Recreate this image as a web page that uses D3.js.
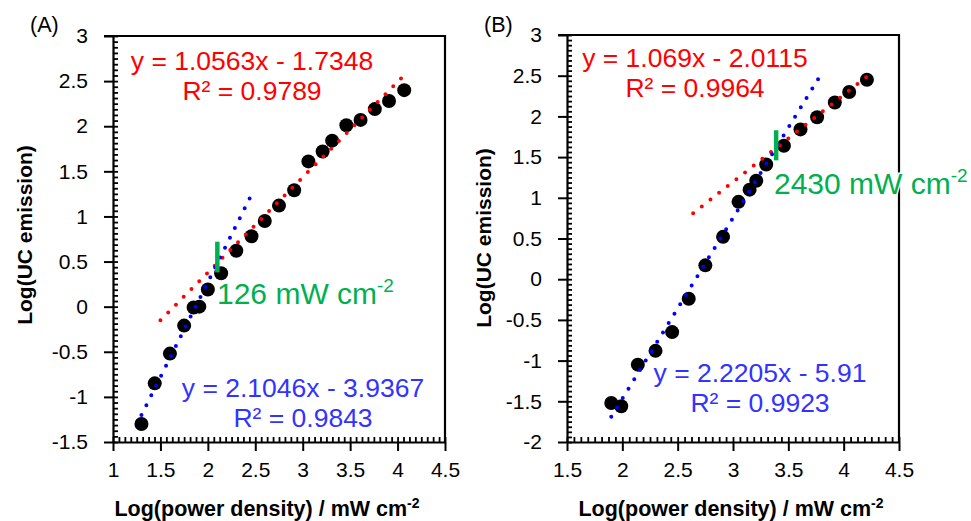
<!DOCTYPE html>
<html>
<head>
<meta charset="utf-8">
<style>
  body { margin: 0; background: #fff; }
  svg { display: block; font-family: "Liberation Sans", Arial, sans-serif; }
</style>
</head>
<body>
<div id="chart"></div>
<script src="https://cdn.jsdelivr.net/npm/d3@7"></script>
<script>
// ---- data ----
var xA = [1.30, 1.44, 1.60, 1.75, 1.85, 1.91, 2.00, 2.14, 2.30, 2.46, 2.60, 2.75, 2.91, 3.06, 3.21, 3.31, 3.46, 3.61, 3.76, 3.91, 4.07];
var yA = [-1.30, -0.85, -0.52, -0.21, -0.01, 0.00, 0.19, 0.37, 0.62, 0.78, 0.95, 1.12, 1.29, 1.61, 1.72, 1.84, 2.01, 2.07, 2.19, 2.28, 2.40];
var xB = [1.90, 1.99, 2.14, 2.30, 2.45, 2.60, 2.75, 2.91, 3.05, 3.15, 3.21, 3.30, 3.46, 3.61, 3.76, 3.92, 4.05, 4.21];
var yB = [-1.52, -1.56, -1.05, -0.88, -0.65, -0.24, 0.17, 0.52, 0.95, 1.10, 1.21, 1.41, 1.64, 1.84, 1.99, 2.17, 2.30, 2.45];

// trendlines: [slope, intercept, xFrom, xTo]
var fitA_high = [1.0563, -1.7348, 1.50, 4.05];
var fitA_low  = [2.1046, -3.9367, 1.30, 2.48];
var fitB_high = [1.069, -2.0115, 2.64, 4.21];
var fitB_low  = [2.2205, -5.91, 1.90, 3.77];

var eqA_high = ["y = 1.0563x - 1.7348", "R² = 0.9789"];
var eqA_low  = ["y = 2.1046x - 3.9367", "R² = 0.9843"];
var eqB_high = ["y = 1.069x - 2.0115", "R² = 0.9964"];
var eqB_low  = ["y = 2.2205x - 5.91", "R² = 0.9923"];

// threshold marker: [log power, yFrom, yTo], label
var markA = [2.10, 0.38, 0.72], markA_label = "126 mW cm";
var markB = [3.39, 1.46, 1.83], markB_label = "2430 mW cm";

var xTicksA = [1, 1.5, 2, 2.5, 3, 3.5, 4, 4.5];
var yTicksA = [-1.5, -1, -0.5, 0, 0.5, 1, 1.5, 2, 2.5, 3];
var xTicksB = [1.5, 2, 2.5, 3, 3.5, 4, 4.5];
var yTicksB = [-2, -1.5, -1, -0.5, 0, 0.5, 1, 1.5, 2, 2.5, 3];

var RED = "#ff0000", BLUE = "#0000ff", BLUE_TXT = "#3333ff", GREEN = "#00b050";

var svg = d3.select("#chart").append("svg")
    .attr("width", 971)
    .attr("height", 521);

function fmt(d) { return String(d); }

function panel(o) {
  var x = d3.scaleLinear().domain([o.xTicks[0], o.xTicks[o.xTicks.length - 1]]).range([o.left, o.right]);
  var y = d3.scaleLinear().domain([o.yTicks[0], o.yTicks[o.yTicks.length - 1]]).range([o.bottom, o.top]);

  // minor ticks: 8 per major step
  function minors(t) {
    var out = [];
    for (var i = 0; i < t.length - 1; i++)
      for (var k = 0; k < 8; k++) out.push(t[i] + (t[i + 1] - t[i]) * k / 8);
    out.push(t[t.length - 1]);
    return out;
  }

  var g = svg.append("g");

  // inner ticks (minor + major)
  g.append("g").attr("transform", "translate(" + o.left + ",0)")
    .call(d3.axisRight(y).tickValues(minors(o.yTicks)).tickSize(5).tickSizeOuter(0).tickFormat(""))
    .call(function(s) { s.select(".domain").remove(); s.selectAll("line").attr("stroke-width", 1.8); });
  g.append("g").attr("transform", "translate(0," + o.bottom + ")")
    .call(d3.axisTop(x).tickValues(minors(o.xTicks)).tickSize(5).tickSizeOuter(0).tickFormat(""))
    .call(function(s) { s.select(".domain").remove(); s.selectAll("line").attr("stroke-width", 1.8); });

  // major ticks with labels
  var ay = g.append("g").attr("transform", "translate(" + o.left + ",0)")
    .call(d3.axisLeft(y).tickValues(o.yTicks).tickSize(9).tickSizeOuter(0).tickPadding(16).tickFormat(fmt));
  ay.selectAll("line").attr("stroke-width", 2);
  ay.select(".domain").attr("stroke-width", 2.2);
  ay.selectAll("text").attr("font-size", 21).attr("fill", "#000").attr("font-family", "Liberation Sans, Arial, sans-serif");

  var ax = g.append("g").attr("transform", "translate(0," + o.bottom + ")")
    .call(d3.axisBottom(x).tickValues(o.xTicks).tickSize(9).tickSizeOuter(0).tickFormat(fmt));
  ax.selectAll("line").attr("stroke-width", 2);
  ax.select(".domain").attr("stroke-width", 2.2);
  ax.selectAll("text").attr("font-size", 21).attr("fill", "#000").attr("dy", null).attr("y", 35)
    .attr("font-family", "Liberation Sans, Arial, sans-serif");

  // top and right border
  g.append("path")
    .attr("d", "M" + (o.left - 9) + "," + o.top + "H" + o.right + "V" + o.bottom)
    .attr("fill", "none").attr("stroke", "#000").attr("stroke-width", 2.2);

  // points
  g.append("g").selectAll("circle")
    .data(o.xs.map(function(d, i) { return [d, o.ys[i]]; }))
    .join("circle")
    .attr("cx", function(d) { return x(d[0]); })
    .attr("cy", function(d) { return y(d[1]); })
    .attr("r", 7)
    .attr("fill", "#000");

  // dotted trendlines
  var line = d3.line().x(function(d) { return x(d[0]); }).y(function(d) { return y(d[1]); });
  [[o.fitHigh, RED], [o.fitLow, BLUE]].forEach(function(f) {
    var p = f[0];
    g.append("path")
      .attr("d", line([[p[2], p[0] * p[2] + p[1]], [p[3], p[0] * p[3] + p[1]]]))
      .attr("stroke", f[1]).attr("stroke-width", 4).attr("fill", "none")
      .attr("stroke-linecap", "round").attr("stroke-dasharray", "0 11");
  });

  // threshold marker
  g.append("line")
    .attr("x1", x(o.mark[0])).attr("x2", x(o.mark[0]))
    .attr("y1", y(o.mark[1])).attr("y2", y(o.mark[2]))
    .attr("stroke", GREEN).attr("stroke-width", 4.5);

  var ml = g.append("text")
    .attr("x", o.markText[0]).attr("y", o.markText[1])
    .attr("font-size", 30).attr("fill", GREEN)
    .attr("stroke", "#fff").attr("stroke-width", 3).attr("paint-order", "stroke");
  ml.append("tspan").text(o.markLabel);
  ml.append("tspan").attr("font-size", 19).attr("dy", -12).text("-2");

  // equations
  function eq(lines, pos, color) {
    lines.forEach(function(t, i) {
      g.append("text")
        .attr("x", pos[0]).attr("y", pos[1 + i])
        .attr("text-anchor", "middle")
        .attr("font-size", 26.5).attr("fill", color)
        .text(t);
    });
  }
  eq(o.eqHigh, o.eqHighPos, RED);
  eq(o.eqLow, o.eqLowPos, BLUE_TXT);

  // titles
  g.append("text")
    .attr("transform", "translate(" + o.yTitle[0] + "," + o.yTitle[1] + ") rotate(-90)")
    .attr("text-anchor", "middle").attr("font-size", 21).attr("font-weight", "bold")
    .text("Log(UC emission)");

  var xt = g.append("text")
    .attr("x", o.xTitle[0]).attr("y", o.xTitle[1])
    .attr("text-anchor", "middle").attr("font-size", 21.5).attr("font-weight", "bold");
  xt.append("tspan").text("Log(power density) / mW cm");
  xt.append("tspan").attr("font-size", 14).attr("dy", -8).text("-2");

  g.append("text").attr("x", o.tag[0]).attr("y", o.tag[1])
    .attr("font-size", 21.5).text(o.tagText);
}

panel({
  left: 113, right: 445, top: 36, bottom: 442,
  xTicks: xTicksA, yTicks: yTicksA, xs: xA, ys: yA,
  fitHigh: fitA_high, fitLow: fitA_low,
  eqHigh: eqA_high, eqHighPos: [252, 70, 100],
  eqLow: eqA_low, eqLowPos: [303, 397, 427],
  mark: markA, markLabel: markA_label, markText: [217, 304],
  yTitle: [32, 235], xTitle: [267, 516],
  tag: [30, 32], tagText: "(A)"
});

panel({
  left: 567, right: 899, top: 35, bottom: 442,
  xTicks: xTicksB, yTicks: yTicksB, xs: xB, ys: yB,
  fitHigh: fitB_high, fitLow: fitB_low,
  eqHigh: eqB_high, eqHighPos: [695, 67, 97],
  eqLow: eqB_low, eqLowPos: [760, 382, 412],
  mark: markB, markLabel: markB_label, markText: [774, 194],
  yTitle: [491, 238], xTitle: [731, 516],
  tag: [484, 32], tagText: "(B)"
});
</script>
</body>
</html>
